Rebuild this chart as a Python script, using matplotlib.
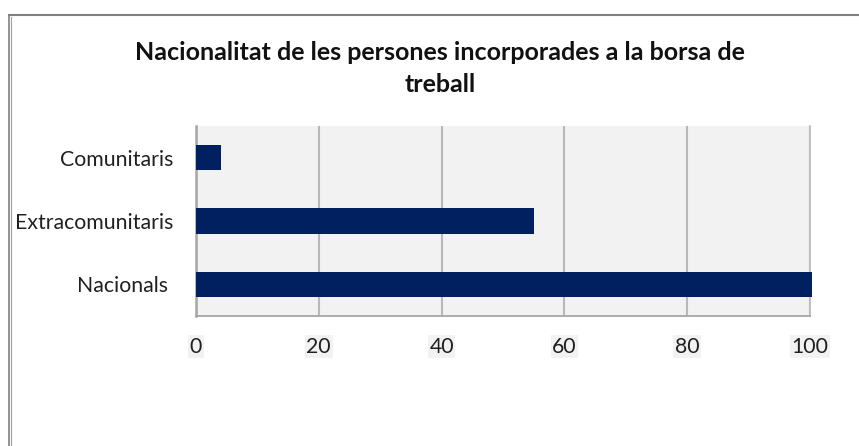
import matplotlib
matplotlib.use("Agg")
import matplotlib.pyplot as plt
from matplotlib.lines import Line2D

categories = ["Nacionals ", "Extracomunitaris", "Comunitaris"]
values = [100.3, 55, 4]
xticks = [0, 20, 40, 60, 80, 100]
title = "Nacionalitat de les persones incorporades a la borsa de\ntreball"

plt.rcParams['font.family'] = ['Lato', 'DejaVu Sans']

W, H = 859, 446
fig = plt.figure(figsize=(W/100, H/100), dpi=100)
ax = fig.add_axes([196/W, (H-316)/H, (810-196)/W, (316-126)/H])
ax.set_facecolor('#f2f2f2')

ypos = range(len(categories))
ax.barh(ypos, values, height=0.4, color='#002060', zorder=3, clip_on=False)
ax.set_xlim(0, 100)
ax.set_ylim(-0.5, 2.5)
ax.set_yticks(list(ypos))
ax.set_yticklabels(categories, fontsize=15.3, color='#202020')
ax.set_xticks(xticks)
ax.set_xticklabels([str(t) for t in xticks], fontsize=15.3, color='#202020')
for lab in ax.get_xticklabels():
    lab.set_bbox(dict(facecolor='#f2f2f2', edgecolor='none', pad=1.0))
ax.tick_params(axis='both', length=0)
ax.tick_params(axis='x', pad=15)
ax.tick_params(axis='y', pad=16)
ax.grid(axis='x', color='#b8b8b8', linewidth=1.5, zorder=1)
ax.spines['top'].set_visible(False)
ax.spines['left'].set_color('#a6a6a6')
ax.spines['left'].set_linewidth(1.8)
ax.spines['bottom'].set_color('#a6a6a6')
ax.spines['bottom'].set_linewidth(1.3)
ax.spines['right'].set_color('#bdbdbd')
ax.spines['right'].set_linewidth(1.3)
ax.set_axisbelow(True)

fig.text(440/W, 1 - 68.5/H, title, ha='center', va='center', fontsize=18,
         fontweight='bold', linespacing=1.5, color='#111111')

# outer frame (left and top only)
fig.add_artist(Line2D([8.5/W, 8.5/W], [0, 1 - 15/H], transform=fig.transFigure,
                      color='#808080', linewidth=1.2))
fig.add_artist(Line2D([11/W, 11/W], [0, 1 - 17/H], transform=fig.transFigure,
                      color='#a0a0a0', linewidth=0.8))
fig.add_artist(Line2D([8.5/W, 1], [1 - 15/H, 1 - 15/H], transform=fig.transFigure,
                      color='#808080', linewidth=1.5))

fig.savefig("out.png", dpi=100)
